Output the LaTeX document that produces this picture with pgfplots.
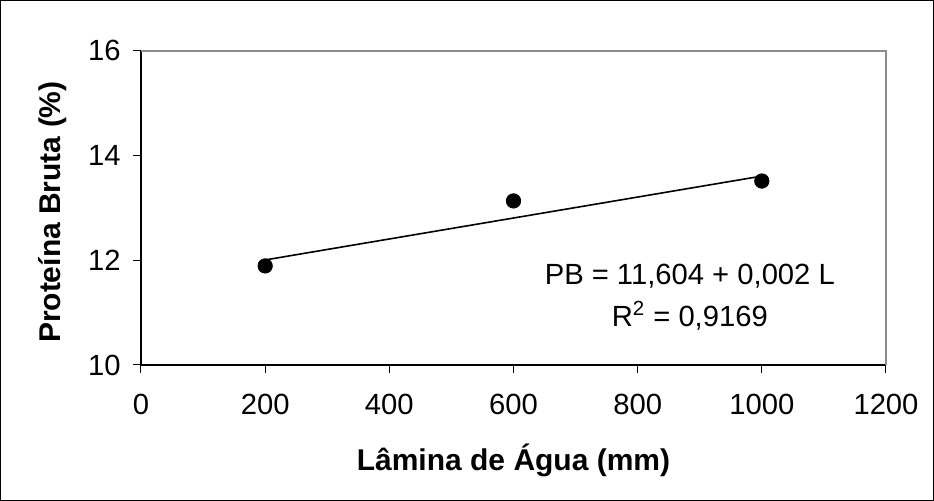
\documentclass[border=0pt]{standalone}
\usepackage{pgfplots}
\pgfplotsset{compat=1.18}
\usepackage{fontspec}
\setmainfont{Liberation Sans}
\begin{document}
\fontsize{15}{18}\selectfont
\begin{tikzpicture}
\draw[black, line width=0.6pt] (0.3pt,0.3pt) rectangle (466.7pt,250.2pt);
\begin{axis}[
  at={(70.5pt,68pt)}, anchor=south west,
  scale only axis, width=372.5pt, height=157.25pt,
  xmin=0, xmax=1200, ymin=10, ymax=16,
  xtick={0,200,...,1200}, ytick={10,12,14,16},
  axis x line*=bottom, axis y line*=left,
  axis line style={black, line width=0.6pt, -},
  tick align=outside, tick style={black, line width=0.5pt},
  major tick length=4pt,
  /pgf/number format/assume math mode=true,
  /pgf/number format/1000 sep={},
  ticklabel style={font=\fontsize{14.6}{18}\selectfont},
  xticklabel style={yshift=-5.5pt},
  yticklabel style={xshift=-1pt},
  xlabel={\bfseries Lâmina de Água (mm)},
  ylabel={\bfseries Proteína Bruta (\%)},
  xlabel style={at={(axis description cs:0.5,-0.302)}, anchor=center, font=\fontsize{15}{18}\selectfont},
  ylabel style={at={(axis description cs:-0.119,0.486)}, anchor=center, rotate=0, font=\fontsize{15}{18}\selectfont},
  clip=false,
]
\draw[gray!90, line width=1pt] (axis cs:0,16) -- (axis cs:1200,16) -- (axis cs:1200,10);
\addplot[black, line width=0.8pt, no marks] coordinates {(200,12.004) (1000,13.604)};
\addplot[only marks, mark=*, mark size=3.6pt, black] coordinates {(200,11.89) (600,13.13) (1000,13.51)};
\node[align=center, font=\fontsize{14.6}{18}\selectfont] at (axis cs:884,11.30) {PB = 11,604 + 0,002 L\\[3pt] R\textsuperscript{2} = 0,9169};
\end{axis}
\end{tikzpicture}
\end{document}
